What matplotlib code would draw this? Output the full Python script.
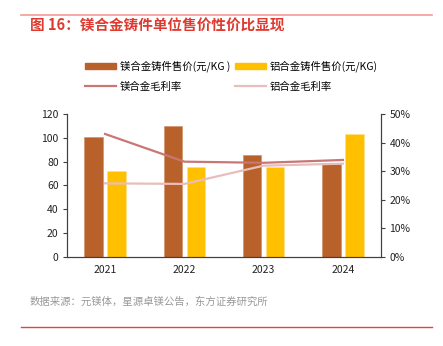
import numpy as np
import matplotlib.pyplot as plt
from matplotlib.patches import Patch
from matplotlib.lines import Line2D

plt.rcParams['font.family'] = ['Noto Sans CJK SC', 'DejaVu Sans']

years = ['2021', '2022', '2023', '2024']
mg_price = [100.6, 109.8, 85.6, 78.0]
al_price = [71.7, 75.6, 75.8, 103.2]
mg_margin = [43.0, 33.3, 32.9, 33.9]
al_margin = [25.7, 25.5, 31.9, 32.6]

c_mg = '#B8612A'
c_al = '#FFC000'
c_mg_line = '#C97775'
c_al_line = '#E8BDBB'

fig = plt.figure(figsize=(4.43, 3.46), dpi=100)
ax = fig.add_axes([67 / 443, 1 - 256.7 / 346, (381 - 67) / 443, (256.7 - 114) / 346])
ax2 = ax.twinx()

x = np.arange(len(years))
w = 0.23
ax.bar(x - 0.145, mg_price, w, color=c_mg, edgecolor='#D08C60', linewidth=0.4)
ax.bar(x + 0.145, al_price, w, color=c_al, edgecolor='#FFE08A', linewidth=0.4)
ax2.plot(x, mg_margin, color=c_mg_line, lw=1.6)
ax2.plot(x, al_margin, color=c_al_line, lw=1.6)

ax.set_xlim(-0.48, 3.48)
ax.set_ylim(0, 120)
ax.set_yticks(range(0, 121, 20))
ax2.set_ylim(0, 50)
ax2.set_yticks(range(0, 51, 10))
ax2.set_yticklabels([f'{v}%' for v in range(0, 51, 10)])
ax.set_xticks(x)
ax.set_xticklabels(years)

for a in (ax, ax2):
    a.spines['top'].set_visible(False)
    for s in ('left', 'right', 'bottom'):
        a.spines[s].set_color('#404040')
        a.spines[s].set_linewidth(0.8)
    a.tick_params(labelsize=7.5, colors='#404040', labelcolor='#222222', length=3, width=0.8)
ax.tick_params(axis='x', length=0, pad=6)
ax.tick_params(axis='y', pad=3)
ax2.tick_params(axis='y', pad=3)

handles = [Patch(color=c_mg), Line2D([], [], color=c_mg_line, lw=1.6),
           Patch(color=c_al), Line2D([], [], color=c_al_line, lw=1.6)]
labels = ['镁合金铸件售价(元/KG )', '镁合金毛利率', '铝合金铸件售价(元/KG)', '铝合金毛利率']
fig.legend(handles, labels, ncol=2, loc='center left', bbox_to_anchor=(76 / 443, 1 - 76 / 346),
           frameon=False, fontsize=7.5, handlelength=2.9, handleheight=0.6,
           columnspacing=0.5, labelspacing=0.9, handletextpad=0.4)

fig.add_artist(Line2D([21 / 443, 432 / 443], [1 - 15 / 346] * 2, color='#F29B95', lw=1.2))
fig.add_artist(Line2D([21 / 443, 432 / 443], [1 - 327 / 346] * 2, color='#E2463A', lw=1.0))
fig.text(30 / 443, 1 - 26 / 346, '图 16：镁合金铸件单位售价性价比显现', color='#E03A30',
         fontsize=10.5, fontweight='bold', va='center', ha='left')
fig.text(30 / 443, 1 - 302 / 346, '数据来源：元镁体，星源卓镁公告，东方证券研究所', color='#999999',
         fontsize=7.5, va='center', ha='left')

fig.savefig('out.png', dpi=100)
